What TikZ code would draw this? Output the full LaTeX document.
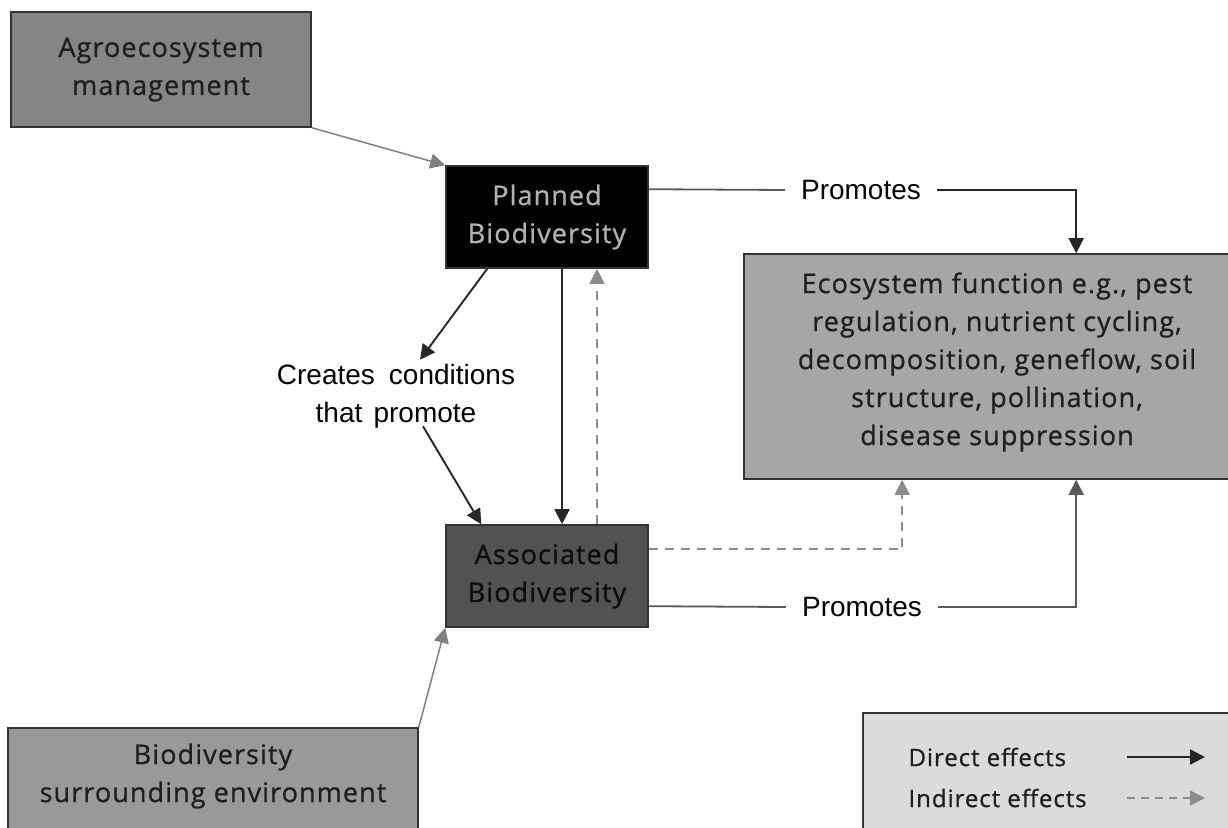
\documentclass[tikz,border=0pt]{standalone}
\usepackage{fontspec}
\setmainfont{Open Sans}[LetterSpace=4,FakeBold=0.8]
\newfontfamily\labelfont{Liberation Sans}
\usetikzlibrary{arrows.meta,calc}
\begin{document}
\begin{tikzpicture}[x=1pt,y=-1pt,
  box/.style={draw=black!80,line width=1.6pt,inner sep=0pt,align=center,
    font=\fontsize{27}{38}\selectfont,text=black!88},
  boxtext/.style={font=\fontsize{27}{38}\selectfont,text=black!88,align=center},
  lbl/.style={font=\labelfont\fontsize{28}{38}\selectfont,align=center,fill=white,inner sep=0pt},
  wire/.style={draw=black!65,line width=1.8pt},
  direct/.style={draw=black!85,line width=1.9pt,-{Triangle[length=15pt,width=15pt]}},
  soft/.style={draw=black!50,line width=1.5pt,-{Triangle[length=15pt,width=15pt]}},
  indirect/.style={draw=black!45,line width=1.5pt,dash pattern=on 9pt off 7pt,-{Triangle[length=15pt,width=15pt]}}]
\useasboundingbox (0,0) rectangle (1228,827);
\clip (0,0) rectangle (1228,827);

% boxes
\node[box,fill=black!48,minimum width=300pt,minimum height=115pt] (agro) at (161,69.5)
  {Agroecosystem\\management};
\node[box,fill=black,text=black!30,minimum width=202pt,minimum height=102pt] (planned) at (547,217)
  {Planned\\Biodiversity};
\node[box,fill=black!68,text=black!95,minimum width=202pt,minimum height=102pt] (assoc) at (547,576)
  {Associated\\Biodiversity};
\node[box,fill=black!35,minimum width=520pt,minimum height=225pt] (eco) at (1004,366.5) {};
\node[boxtext] (ecotext) at (997,362)
  {Ecosystem function e.g., pest\\regulation, nutrient cycling,\\decomposition, geneflow, soil\\structure, pollination,\\disease suppression};
\node[box,fill=black!40,minimum width=410pt,minimum height=130pt] (surr) at (213,793) {};
\node[boxtext] (surrtext) at (213,776) {Biodiversity\\surrounding environment};
\node[box,fill=black!14,minimum width=400pt,minimum height=140pt] (legend) at (1063,783) {};

% labels
\node[lbl] (creates) at (396,396) {Creates\hspace{0.5em}conditions\\that\hspace{0.4em}promote};
\node[lbl,inner xsep=16pt] (promtop) at (861,190) {Promotes};
\node[lbl,inner xsep=16pt] (prombot) at (862,607) {Promotes};

% connectors
\draw[soft] (agro.south east) -- (planned.north west);
\draw[soft] (surr.north east) -- (assoc.south west);
\draw[direct] ($(planned.south west)+(42,0)$) -- ($(creates.north)+(24,-4)$);
\draw[direct] ($(creates.south)+(27,-2)$) -- ($(assoc.north west)+(36,0)$);
\draw[direct] ($(planned.south)+(15,0)$) -- ($(assoc.north)+(15,0)$);
\draw[indirect] ($(assoc.north)+(50,0)$) -- ($(planned.south)+(50,0)$);
\draw[wire] ($(planned.north east)+(0,24)$) -- (promtop.west);
\draw[direct] (promtop.east) -| ($(eco.north west)+(333,0)$);
\draw[indirect] ($(assoc.north east)+(0,25)$) -| ($(eco.south west)+(159,0)$);
\draw[wire] ($(assoc.north east)+(0,82)$) -- (prombot.west);
\draw[direct,draw=black!65] (prombot.east) -| ($(eco.south west)+(333,0)$);

% legend
\node[boxtext,anchor=west,font=\fontsize{24}{30}\selectfont] (ldirect) at (905,757) {Direct effects};
\node[boxtext,anchor=west,font=\fontsize{24}{30}\selectfont] (lindirect) at (905,798) {Indirect effects};
\coordinate (d1) at (1127,757);
\coordinate (d2) at (1205,757);
\coordinate (i1) at (1127,798);
\coordinate (i2) at (1205,798);
\draw[direct,line width=2.4pt] (d1) -- (d2);
\draw[indirect,dash pattern=on 8pt off 6pt] (i1) -- (i2);
\end{tikzpicture}
\end{document}
